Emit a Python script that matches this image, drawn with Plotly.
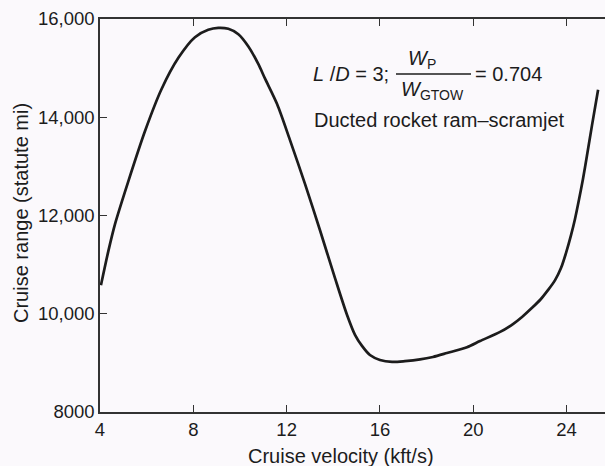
import plotly.graph_objects as go

# Cruise range vs. cruise velocity, ducted rocket ram-scramjet
velocity_kfts = [4.04, 4.36, 4.64, 5.21, 5.93, 6.64, 7.36, 8.07, 8.64, 9.07,
                 9.50, 9.93, 10.36, 10.79, 11.07, 11.59, 12.14, 12.79, 13.43,
                 14.07, 14.59, 14.93, 15.23, 15.57, 16.00, 16.52, 17.07, 17.72,
                 18.27, 18.87, 19.73, 20.29, 21.15, 21.70, 22.09, 22.52, 22.90,
                 23.20, 23.50, 23.76, 23.97, 24.19, 24.36, 24.53, 24.70, 24.87,
                 25.09, 25.35]
range_mi = [10580, 11280, 11820, 12690, 13720, 14575, 15210, 15630, 15780, 15820,
            15800, 15690, 15440, 15080, 14790, 14270, 13540, 12640, 11700,
            10730, 9975, 9570, 9345, 9160, 9060, 9020, 9035, 9070,
            9120, 9200, 9320, 9445, 9630, 9790, 9935, 10120, 10300,
            10480, 10680, 10930, 11230, 11600, 11930, 12320, 12740, 13210,
            13840, 14560]

x_ticks = [4, 8, 12, 16, 20, 24]
y_ticks = [8000, 10000, 12000, 14000, 16000]
y_tick_text = ["8000", "10,000", "12,000", "14,000", "16,000"]

W, H = 605, 466
ML, MR, MT, MB = 100, 0, 19, 54
FONT = "Liberation Sans, Arial, Helvetica, sans-serif"
INK = "#1c1c1c"
BG = "#fbf9fc"
TXT = 20


def px(xp):
    return (xp - ML) / (W - ML - MR)


def py(yp):
    return (H - MB - yp) / (H - MT - MB)


fig = go.Figure()
fig.add_trace(go.Scatter(
    x=velocity_kfts, y=range_mi, mode="lines",
    line=dict(color=INK, width=2.7, shape="spline", smoothing=0.8),
    hoverinfo="skip", showlegend=False,
))

axis_common = dict(
    showgrid=False, zeroline=False, showline=True, linecolor="#333333",
    linewidth=1.5, ticks="inside", ticklen=7, tickwidth=1.3, tickcolor="#333333",
    tickfont=dict(family=FONT, size=18.5, color=INK),
)

fig.update_layout(
    width=W, height=H,
    margin=dict(l=ML, r=MR, t=MT, b=MB),
    paper_bgcolor=BG, plot_bgcolor=BG,
    xaxis=dict(range=[4, 4 + (W - ML - MR) / 23.33], tickvals=x_ticks,
               mirror="ticks", **axis_common),
    yaxis=dict(range=[8000, 16000], tickvals=y_ticks, ticktext=y_tick_text,
               **axis_common),
    font=dict(family=FONT, color=INK),
)

ann = dict(showarrow=False, xref="paper", yref="paper",
           font=dict(family=FONT, size=TXT, color=INK))

fig.add_annotation(x=px(341), y=py(456), text="Cruise velocity (kft/s)",
                   xanchor="center", yanchor="middle", **ann)
fig.add_annotation(x=px(21), y=py(213), text="Cruise range (statute mi)",
                   textangle=-90, xanchor="center", yanchor="middle", **ann)

# Parameter label with a stacked fraction
fig.add_annotation(x=px(311), y=py(74), text="<i>L</i> /<i>D</i> = 3;",
                   xanchor="left", yanchor="middle", **ann)
fig.add_annotation(x=px(422), y=py(59), text="<i>W</i><sub>P</sub>",
                   xanchor="center", yanchor="middle", **ann)
fig.add_annotation(x=px(432), y=py(91), text="<i>W</i><sub>GTOW</sub>",
                   xanchor="center", yanchor="middle", **ann)
fig.add_annotation(x=px(473), y=py(74), text="= 0.704",
                   xanchor="left", yanchor="middle", **ann)
fig.add_shape(type="line", xref="paper", yref="paper",
              x0=px(396), x1=px(471), y0=py(74), y1=py(74),
              line=dict(color=INK, width=1.5))
fig.add_annotation(x=px(312), y=py(120), text="Ducted rocket ram–scramjet",
                   xanchor="left", yanchor="middle", **ann)

fig.write_html("out.html")
